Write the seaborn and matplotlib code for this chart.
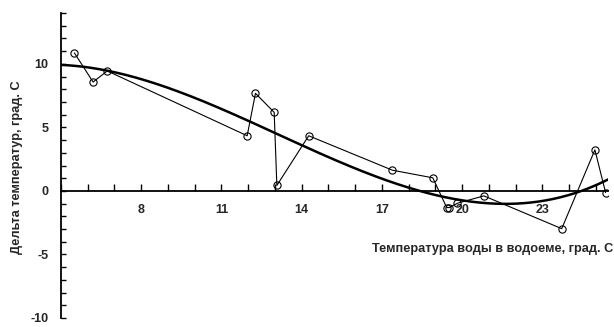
import numpy as np
import pandas as pd
import matplotlib
matplotlib.use("Agg")
import matplotlib.pyplot as plt
from matplotlib.ticker import MultipleLocator, FixedLocator
import seaborn as sns

# Water temperature in the reservoir, deg C
water_temp = [5.50, 6.20, 6.73, 11.96, 12.27, 12.97, 13.07, 14.26, 17.39,
              18.90, 19.42, 19.52, 19.82, 20.81, 23.72, 24.96, 25.36]
# Temperature difference, deg C
delta_temp = [10.86, 8.57, 9.44, 4.34, 7.68, 6.18, 0.43, 4.34, 1.63,
              1.03, -1.31, -1.31, -0.97, -0.39, -2.97, 3.23, -0.13]

x_tick_values = [8, 11, 14, 17, 20, 23]
y_tick_values = [-10, -5, 0, 5, 10]

x_title = "Температура воды в водоеме, град. С"
y_title = "Дельта температур, град. С"

sns.set_theme(style="white")
plt.rcParams["font.family"] = ["Liberation Sans", "DejaVu Sans"]
plt.rcParams["font.weight"] = "bold"

df = pd.DataFrame({"t": water_temp, "d": delta_temp})

# cubic polynomial trend through the observations
x_min, x_max = 5.0, 25.45
coef = np.polyfit(df["t"], df["d"], 3)
xs = np.linspace(x_min, x_max, 300)
trend = pd.DataFrame({"t": xs, "d": np.polyval(coef, xs)})

fig = plt.figure(figsize=(6.14, 3.27), dpi=100)
ax = fig.add_axes([61 / 614, 9 / 327, 547 / 614, 305 / 327])

sns.lineplot(data=df, x="t", y="d", sort=False, ax=ax, color="black",
             linewidth=0.8, marker="o", markersize=5.2,
             markerfacecolor="none", markeredgecolor="black",
             markeredgewidth=0.8)
sns.lineplot(data=trend, x="t", y="d", sort=False, ax=ax, color="black",
             linewidth=1.8)

ax.set_xlim(x_min, x_max)
ax.set_ylim(-10, 14)

for side in ("top", "right"):
    ax.spines[side].set_visible(False)
ax.spines["bottom"].set_position(("data", 0))
for side in ("left", "bottom"):
    ax.spines[side].set_color("black")
    ax.spines[side].set_linewidth(1.3)

ax.xaxis.set_major_locator(FixedLocator(x_tick_values))
ax.xaxis.set_minor_locator(MultipleLocator(1))
ax.yaxis.set_major_locator(FixedLocator(y_tick_values))
ax.yaxis.set_minor_locator(MultipleLocator(1))
ax.set_xticklabels([str(v) for v in x_tick_values])
ax.set_yticklabels([str(v) for v in y_tick_values])

ax.tick_params(axis="x", which="both", direction="in", length=5, width=1,
               color="black", bottom=True, pad=9.5, labelsize=9)
ax.tick_params(axis="y", which="both", direction="in", length=3.5, width=1,
               color="black", left=True, pad=9, labelsize=9)
for lbl in ax.get_xticklabels() + ax.get_yticklabels():
    lbl.set_fontweight("bold")

ax.set_xlabel(x_title, fontsize=9.2, fontweight="bold", loc="right")
ax.xaxis.set_label_coords((613 - 61) / 547, (318 - 243) / 305)
ax.set_ylabel(y_title, fontsize=9.2, fontweight="bold")
ax.yaxis.set_label_coords((23 - 61) / 547, 0.495)

fig.savefig("out.png", dpi=100)
